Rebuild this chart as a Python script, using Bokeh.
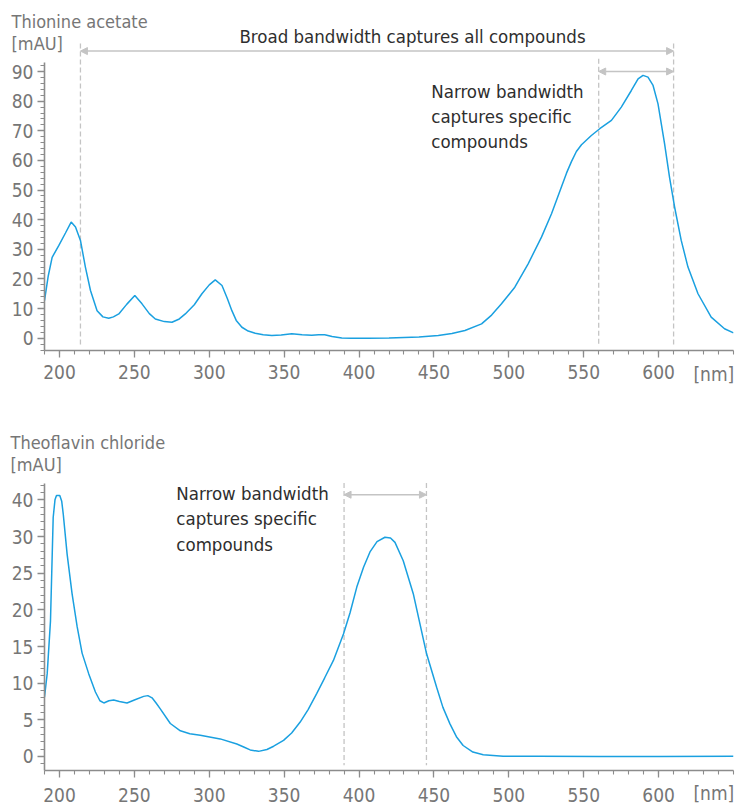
from bokeh.plotting import figure
from bokeh.layouts import column
from bokeh.models import FixedTicker, Arrow, NormalHead, Range1d
from bokeh.core.properties import value
from bokeh.embed import file_html
from bokeh.resources import INLINE

# ---------------- data ----------------
thionine_nm = [190, 192.5, 195.1, 199.6, 204, 207.8, 210.7, 214, 217.3, 220.7, 225.1, 229, 232.9, 236,
               239.6, 245, 250.3, 255.1, 260, 264, 270, 275.1, 280, 284, 290, 295.1, 300, 304, 308.5,
               312, 315.1, 318, 321.8, 326, 330.7, 336, 341.8, 348, 355.1, 362, 368.4, 373, 377.1,
               382, 388.5, 395, 406.3, 420, 440, 452.9, 462, 470.7, 481.8, 488.5, 495.1, 504,
               512.9, 521.8, 528.5, 535.1, 538.5, 541.8, 545.1, 548.5, 555.1, 560.7, 568.5, 575.1,
               581.8, 586.3, 589.6, 592.9, 596.3, 599.6, 604, 607.3, 610.7, 615.1, 619.6, 626.3,
               635.1, 644, 650]
thionine_mau = [12.7, 21, 27.3, 31.3, 35.5, 39.2, 37.5, 33, 24, 16.1, 9.3, 7.2, 6.75, 7.2,
                8.2, 11.5, 14.4, 11.6, 8.3, 6.5, 5.6, 5.4, 6.5, 8.2, 11.3, 15, 18, 19.7, 17.8,
                13.5, 9.3, 6, 3.7, 2.4, 1.7, 1.2, 0.9, 1.1, 1.5, 1.2, 1.0, 1.2, 1.2,
                0.6, 0.1, 0, 0, 0.05, 0.4, 0.9, 1.6, 2.6, 4.85, 7.8, 11.6, 17.2,
                25.1, 34.1, 42, 51, 55.7, 59.6, 63, 65.3, 68.4, 70.7, 73.5, 78,
                83.6, 87.5, 88.7, 88.1, 85.3, 79.1, 65.6, 54.3, 44.2, 33, 24, 15,
                7.1, 3.2, 1.8]

theoflavin_nm = [190, 191.8, 194, 195.8, 197, 198, 200.2, 201.5, 202.5, 205.1, 208.4, 211.8, 215.1,
                 219.5, 224, 227, 229.6, 233, 236.2, 240, 245.1, 250, 256.2, 259, 261.8, 264.5,
                 267.3, 274, 280.7, 287, 294, 307.3, 318.4, 323, 327.3, 332.9, 338.5, 343, 349.6,
                 355, 360.7, 366, 371.8, 377, 382.9, 389.6, 394, 398.5, 403, 407.3, 412, 417.3,
                 421, 424, 429.5, 436.2, 440, 445.1, 451.8, 456, 460.7, 465, 469.5, 476, 482.9,
                 496.2, 520, 560, 600, 650]
theoflavin_mau = [8.1, 11.3, 18.5, 32.6, 35, 35.6, 35.6, 34.8, 33.1, 27.6, 22.2, 17.7, 14.1,
                  11.3, 8.8, 7.6, 7.3, 7.6, 7.7, 7.5, 7.3, 7.7, 8.2, 8.3, 8.0, 7.3,
                  6.5, 4.5, 3.5, 3.1, 2.9, 2.4, 1.7, 1.3, 0.9, 0.7, 0.95, 1.4, 2.2,
                  3.2, 4.7, 6.4, 8.6, 10.7, 13.1, 16.7, 19.6, 23.1, 25.8, 27.9, 29.3, 29.9,
                  29.8, 29.2, 26.7, 22.2, 18.7, 14.0, 9.45, 6.7, 4.45, 2.7, 1.5, 0.6, 0.23,
                  0.05, 0.03, 0.0, 0.0, 0.05]

x_ticks = [200, 250, 300, 350, 400, 450, 500, 550, 600]
x_minor = list(range(190, 651, 10))
top_y_ticks = [0, 10, 20, 30, 40, 50, 60, 70, 80, 90]
top_y_minor = list(range(-4, 93, 2))
bot_y_ticks = [0, 5, 10, 15, 20, 25, 30, 35]
bot_y_labels = {35: "40"}
bot_y_minor = list(range(-1, 38, 1))

top_title = "Thionine acetate"
bot_title = "Theoflavin chloride"
unit_y = "[mAU]"
unit_x = "[nm]"
broad_text = "Broad bandwidth captures all compounds"
narrow_lines = ["Narrow bandwidth", "captures specific", "compounds"]

# bandwidth markers (nm)
top_broad = (214, 610)
top_narrow = (560, 610)
bot_narrow = (390, 445)

# ---------------- style ----------------
FONT = "DejaVu Sans Condensed"
BLUE = "#1aa0e0"
AXIS = "#8c8c8c"
TICKLBL = "#767676"
DASH = "#c4c4c4"
DARK = "#2e2e2e"


def style_axes(p, yb, standoff):
    p.xgrid.grid_line_color = None
    p.ygrid.grid_line_color = None
    p.outline_line_color = None
    for ax in (p.xaxis[0], p.yaxis[0]):
        ax.axis_line_color = AXIS
        ax.axis_line_width = 1.6
        ax.major_tick_line_color = AXIS
        ax.minor_tick_line_color = AXIS
        ax.major_tick_line_width = 1.3
        ax.minor_tick_line_width = 1.1
        ax.major_tick_out = 7
        ax.major_tick_in = 0
        ax.minor_tick_out = 4
        ax.minor_tick_in = 0
        ax.major_label_text_font = FONT
        ax.major_label_text_font_size = "19px"
        ax.major_label_text_color = TICKLBL
        ax.major_label_standoff = 4
    p.xaxis.major_label_standoff = standoff
    p.yaxis.bounds = yb


def add_text(p, xs, ys, texts, color, size="18px", align="left"):
    p.text(x=xs, y=ys, text=texts, text_font=value(FONT), text_font_size=size,
           text_color=color, text_align=align, text_baseline="alphabetic",
           y_offset=-7, level="overlay")


def add_arrow(p, x0, x1, y):
    p.add_layout(Arrow(
        start=NormalHead(size=7, fill_color=DASH, line_color=DASH),
        end=NormalHead(size=7, fill_color=DASH, line_color=DASH),
        x_start=x0, y_start=y, x_end=x1, y_end=y, line_color=DASH, line_width=1.5))


# ---------------- top chart ----------------
p1 = figure(width=737, height=400, x_range=Range1d(190, 650), y_range=Range1d(-4.15, 113.97),
            output_backend="svg", toolbar_location=None,
            min_border_left=42, min_border_right=4, min_border_top=0, min_border_bottom=50)
p1.xaxis.ticker = FixedTicker(ticks=x_ticks, minor_ticks=x_minor)
p1.yaxis.ticker = FixedTicker(ticks=top_y_ticks, minor_ticks=top_y_minor)
style_axes(p1, (-4.15, 92.9), 7)

p1.segment(x0=[top_broad[0], top_broad[1], top_narrow[0]], y0=[99.5, 99.5, 94.3],
           x1=[top_broad[0], top_broad[1], top_narrow[0]], y1=[-3.0, -3.0, -1.9],
           line_color=DASH, line_width=1.3, line_dash="5 3")
add_arrow(p1, top_broad[0], top_broad[1], 96.9)
add_arrow(p1, top_narrow[0], top_narrow[1], 90.0)
p1.line(thionine_nm, thionine_mau, line_color=BLUE, line_width=1.5)

add_text(p1, [168, 168], [104.4, 97.1], [top_title, unit_y], TICKLBL)
add_text(p1, [435.7], [99.4], [broad_text], DARK, size="18.5px", align="center")
add_text(p1, [448.2] * 3, [81.0, 72.45, 63.9], narrow_lines, DARK, size="18.5px")
add_text(p1, [650.5], [-14.3], [unit_x], TICKLBL, size="19px", align="right")

# ---------------- bottom chart ----------------
p2 = figure(width=737, height=410, x_range=Range1d(190, 650), y_range=Range1d(-1.91, 48.55),
            output_backend="svg", toolbar_location=None,
            min_border_left=44, min_border_right=3, min_border_top=0, min_border_bottom=40)
p2.xaxis.ticker = FixedTicker(ticks=x_ticks, minor_ticks=x_minor)
p2.yaxis.ticker = FixedTicker(ticks=bot_y_ticks, minor_ticks=bot_y_minor)
p2.yaxis.major_label_overrides = bot_y_labels
style_axes(p2, (-1.91, 37.2), 10)

p2.segment(x0=[bot_narrow[0], bot_narrow[1]], y0=[37.3, 37.3],
           x1=[bot_narrow[0], bot_narrow[1]], y1=[-1.2, -1.2],
           line_color=DASH, line_width=1.3, line_dash="5 3")
add_arrow(p2, bot_narrow[0], bot_narrow[1], 35.7)
p2.line(theoflavin_nm, theoflavin_mau, line_color=BLUE, line_width=1.5)

add_text(p2, [167.3, 167.3], [41.8, 38.8], [bot_title, unit_y], TICKLBL)
add_text(p2, [278] * 3, [34.9, 31.45, 28.0], narrow_lines, DARK, size="18.5px")
add_text(p2, [650.5], [-5.9], [unit_x], TICKLBL, size="19px", align="right")

layout = column(p1, p2, spacing=0)
open("out.html", "w").write(file_html(layout, INLINE))
